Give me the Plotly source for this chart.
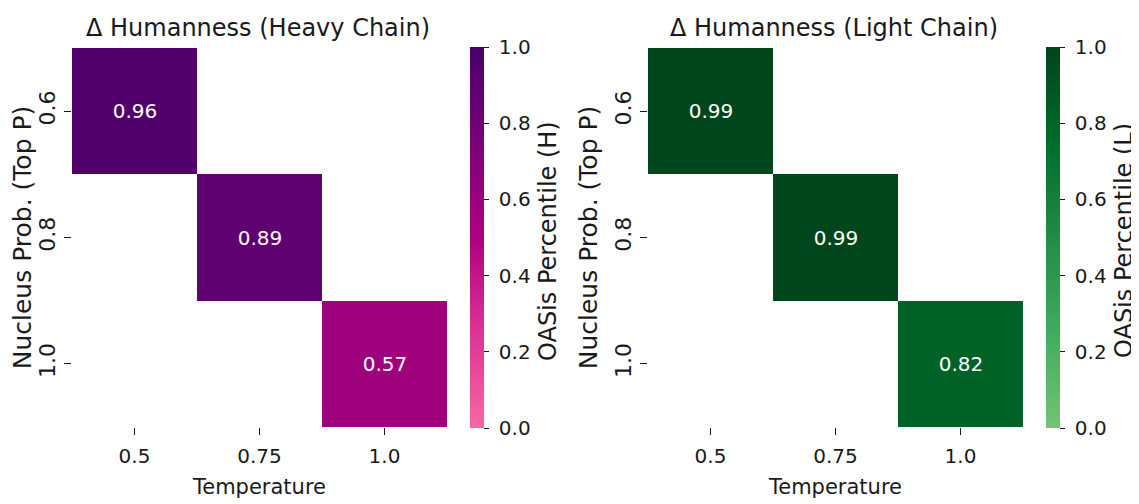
import plotly.graph_objects as go

temperatures = ["0.5", "0.75", "1.0"]
top_p = ["0.6", "0.8", "1.0"]
heavy_values = [0.96, 0.89, 0.57]
light_values = [0.99, 0.99, 0.82]
cbar_ticks = [0.0, 0.2, 0.4, 0.6, 0.8, 1.0]

# page body has 8px margin -> figure drawn 8px right/down; compensate
OFF = 8
W, H = 1139 - OFF, 504 - OFF
FONT = "DejaVu Sans"
TXT = "#1a1a1a"

rdpu_upper = [[0.0, "#f768a1"], [0.25, "#dd3497"], [0.5, "#ae017e"], [0.75, "#7a0177"], [1.0, "#49006a"]]
greens_upper = [[0.0, "#74c476"], [0.25, "#41ab5d"], [0.5, "#238b45"], [0.75, "#006d2c"], [1.0, "#00441b"]]


def diag(vals):
    z, t = [], []
    for i in range(len(top_p)):
        zr, tr = [], []
        for j in range(len(temperatures)):
            if i == j:
                zr.append(vals[i]); tr.append(f"{vals[i]:.2f}")
            else:
                zr.append(None); tr.append("")
        z.append(zr); t.append(tr)
    return z, t


def px(x):
    return (x - OFF) / W


def py(y):
    return 1 - (y - OFF) / H


# plot area pixel boxes (screen coords of the reference)
L1, R1 = 72, 447
L2, R2 = 648, 1023
TOP, BOT = 48, 427
yd = [py(BOT), py(TOP)]

fig = go.Figure()
panels = [
    (heavy_values, rdpu_upper, "x", "y", L1, R1, "Δ Humanness (Heavy Chain)", "OASis Percentile (H)"),
    (light_values, greens_upper, "x2", "y2", L2, R2, "Δ Humanness (Light Chain)", "OASis Percentile (L)"),
]
ann = []
for vals, cs, xa, ya, L, R, title, cbt in panels:
    z, t = diag(vals)
    fig.add_trace(go.Heatmap(
        x=temperatures, y=top_p, z=z, text=t, texttemplate="%{text}",
        textfont=dict(family=FONT, size=20, color="white"),
        colorscale=cs, zmin=0, zmax=1, xaxis=xa, yaxis=ya, hoverongaps=False,
        colorbar=dict(x=px(R + 23), xanchor="left", xpad=0, ypad=0,
                      y=(yd[0] + yd[1]) / 2, yanchor="middle",
                      len=BOT - TOP + 2, lenmode="pixels", thickness=14, outlinewidth=0,
                      ticks="outside", ticklen=5, tickcolor=TXT, tickwidth=1.2,
                      tickvals=cbar_ticks,
                      ticktext=["\u00a0" + f"{v:.1f}" for v in cbar_ticks],
                      tickfont=dict(family=FONT, size=20, color=TXT)),
    ))
    ann.append(dict(text=title, x=px((L + R) / 2 - 2), y=py(28), xref="paper", yref="paper",
                    xanchor="center", yanchor="middle", showarrow=False,
                    font=dict(family=FONT, size=24, color=TXT)))
    ann.append(dict(text=cbt, x=px(R + 101), y=py(241), xref="paper", yref="paper",
                    xanchor="center", yanchor="middle", showarrow=False, textangle=-90,
                    font=dict(family=FONT, size=24, color=TXT)))

axx = dict(type="category", showgrid=False, zeroline=False, showline=False,
           ticks="outside", ticklen=7, tickcolor=TXT, tickwidth=1.2, ticklabelstandoff=4,
           tickfont=dict(family=FONT, size=20, color=TXT),
           title=dict(text="Temperature", font=dict(family=FONT, size=21, color=TXT), standoff=12))
axy = dict(type="category", showgrid=False, zeroline=False, showline=False, autorange="reversed",
           ticks="outside", ticklen=7, tickcolor=TXT, tickwidth=1.2, tickangle=-90,
           tickfont=dict(family=FONT, size=22, color=TXT),
           title=dict(text="Nucleus Prob. (Top P)", font=dict(family=FONT, size=25, color=TXT), standoff=6),
           domain=yd)

fig.update_layout(
    width=W, height=H, margin=dict(l=0, r=0, t=0, b=0),
    paper_bgcolor="white", plot_bgcolor="white",
    xaxis=dict(axx, domain=[px(L1), px(R1)], anchor="y"),
    yaxis=dict(axy, anchor="x"),
    xaxis2=dict(axx, domain=[px(L2), px(R2)], anchor="y2"),
    yaxis2=dict(axy, anchor="x2"),
    annotations=ann, showlegend=False,
)
fig.write_html("out.html")
